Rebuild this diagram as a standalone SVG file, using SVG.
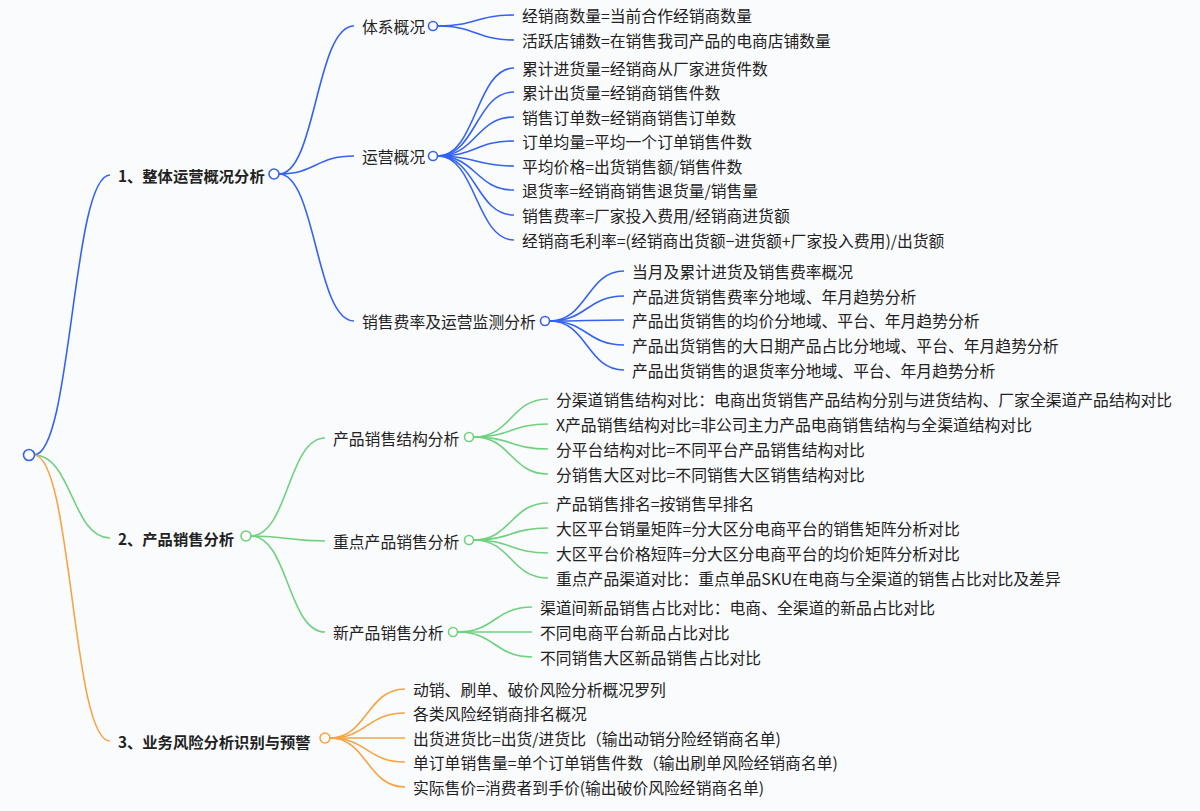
<svg xmlns="http://www.w3.org/2000/svg" width="1200" height="811" viewBox="0 0 1200 811">
<style>
text{font-family:"Noto Sans CJK SC","Noto Sans",sans-serif;font-size:15.8px;fill:#222;dominant-baseline:central}
.b{font-weight:bold;font-size:15.3px}
path{fill:none;stroke-width:1.6}
.bl{stroke:#3563f0}.gr{stroke:#6fd17f}.or{stroke:#f5a545}
circle{fill:#fff;stroke-width:1.6}
</style>
<rect width="1200" height="811" fill="#fafbfd"/>
<g id="connectors">
<path class="bl" d="M34,455 C72,455 72,175 110,175"/>
<path class="gr" d="M34,455 C72,455 72,538 110,538"/>
<path class="or" d="M34,455 C72,455 72,741 110,741"/>
<path class="bl" d="M279,174 C316,174 316,26 354,26"/>
<path class="bl" d="M279,174 C316,174 316,156 354,156"/>
<path class="bl" d="M279,174 C316,174 316,321 354,321"/>
<path class="bl" d="M438,26 C476,26 476,15 514,15"/>
<path class="bl" d="M438,26 C476,26 476,40 514,40"/>
<path class="bl" d="M438,156 C476,156 476,68 514,68"/>
<path class="bl" d="M438,156 C476,156 476,92 514,92"/>
<path class="bl" d="M438,156 C476,156 476,117 514,117"/>
<path class="bl" d="M438,156 C476,156 476,141 514,141"/>
<path class="bl" d="M438,156 C476,156 476,166 514,166"/>
<path class="bl" d="M438,156 C476,156 476,190 514,190"/>
<path class="bl" d="M438,156 C476,156 476,215 514,215"/>
<path class="bl" d="M438,156 C476,156 476,240 514,240"/>
<path class="bl" d="M550,321 C587,321 587,271 624,271"/>
<path class="bl" d="M550,321 C587,321 587,296 624,296"/>
<path class="bl" d="M550,321 C587,321 587,320 624,320"/>
<path class="bl" d="M550,321 C587,321 587,345 624,345"/>
<path class="bl" d="M550,321 C587,321 587,370 624,370"/>
<path class="gr" d="M251,536 C288,536 288,438 325,438"/>
<path class="gr" d="M251,536 C288,536 288,541 325,541"/>
<path class="gr" d="M251,536 C288,536 288,632 325,632"/>
<path class="gr" d="M474,437 C511,437 511,399 548,399"/>
<path class="gr" d="M474,437 C511,437 511,424 548,424"/>
<path class="gr" d="M474,437 C511,437 511,449 548,449"/>
<path class="gr" d="M474,437 C511,437 511,474 548,474"/>
<path class="gr" d="M474,540 C511,540 511,503 548,503"/>
<path class="gr" d="M474,540 C511,540 511,528 548,528"/>
<path class="gr" d="M474,540 C511,540 511,553 548,553"/>
<path class="gr" d="M474,540 C511,540 511,578 548,578"/>
<path class="gr" d="M458,632 C495,632 495,607 532,607"/>
<path class="gr" d="M458,632 C495,632 495,632 532,632"/>
<path class="gr" d="M458,632 C495,632 495,657 532,657"/>
<path class="or" d="M330,738 C367,738 367,689 405,689"/>
<path class="or" d="M330,738 C367,738 367,713 405,713"/>
<path class="or" d="M330,738 C367,738 367,738 405,738"/>
<path class="or" d="M330,738 C367,738 367,762 405,762"/>
<path class="or" d="M330,738 C367,738 367,787 405,787"/>
</g>
<g id="root"><circle cx="29" cy="455" r="5.5" stroke="#3563f0"/></g>
<g id="n1"><text class="b" x="118" y="175">1、整体运营概况分析</text><circle cx="274" cy="174" r="5" stroke="#3563f0"/></g>
<g id="n2"><text class="b" x="118" y="538">2、产品销售分析</text><circle cx="246" cy="536" r="5" stroke="#6fd17f"/></g>
<g id="n3"><text class="b" x="118" y="741">3、业务风险分析识别与预警</text><circle cx="325" cy="738" r="5" stroke="#f5a545"/></g>
<g id="n1a"><text x="362" y="26">体系概况</text><circle cx="433" cy="26" r="4.5" stroke="#3563f0"/></g>
<g id="n1b"><text x="362" y="156">运营概况</text><circle cx="433" cy="156" r="4.5" stroke="#3563f0"/></g>
<g id="n1c"><text x="362" y="321">销售费率及运营监测分析</text><circle cx="545" cy="321" r="4.5" stroke="#3563f0"/></g>
<g id="n2a"><text x="333" y="438">产品销售结构分析</text><circle cx="469" cy="437" r="4.5" stroke="#6fd17f"/></g>
<g id="n2b"><text x="333" y="541">重点产品销售分析</text><circle cx="469" cy="540" r="4.5" stroke="#6fd17f"/></g>
<g id="n2c"><text x="333" y="632">新产品销售分析</text><circle cx="453" cy="632" r="4.5" stroke="#6fd17f"/></g>
<g id="leaves">
<text x="522" y="15">经销商数量=当前合作经销商数量</text>
<text x="522" y="40">活跃店铺数=在销售我司产品的电商店铺数量</text>
<text x="522" y="68">累计进货量=经销商从厂家进货件数</text>
<text x="522" y="92">累计出货量=经销商销售件数</text>
<text x="522" y="117">销售订单数=经销商销售订单数</text>
<text x="522" y="141">订单均量=平均一个订单销售件数</text>
<text x="522" y="166">平均价格=出货销售额/销售件数</text>
<text x="522" y="190">退货率=经销商销售退货量/销售量</text>
<text x="522" y="215">销售费率=厂家投入费用/经销商进货额</text>
<text x="522" y="240">经销商毛利率=(经销商出货额−进货额+厂家投入费用)/出货额</text>
<text x="632" y="271">当月及累计进货及销售费率概况</text>
<text x="632" y="296">产品进货销售费率分地域、年月趋势分析</text>
<text x="632" y="320">产品出货销售的均价分地域、平台、年月趋势分析</text>
<text x="632" y="345">产品出货销售的大日期产品占比分地域、平台、年月趋势分析</text>
<text x="632" y="370">产品出货销售的退货率分地域、平台、年月趋势分析</text>
<text x="556" y="399">分渠道销售结构对比：电商出货销售产品结构分别与进货结构、厂家全渠道产品结构对比</text>
<text x="556" y="424">X产品销售结构对比=非公司主力产品电商销售结构与全渠道结构对比</text>
<text x="556" y="449">分平台结构对比=不同平台产品销售结构对比</text>
<text x="556" y="474">分销售大区对比=不同销售大区销售结构对比</text>
<text x="556" y="503">产品销售排名=按销售早排名</text>
<text x="556" y="528">大区平台销量矩阵=分大区分电商平台的销售矩阵分析对比</text>
<text x="556" y="553">大区平台价格短阵=分大区分电商平台的均价矩阵分析对比</text>
<text x="556" y="578">重点产品渠道对比：重点单品SKU在电商与全渠道的销售占比对比及差异</text>
<text x="540" y="607">渠道间新品销售占比对比：电商、全渠道的新品占比对比</text>
<text x="540" y="632">不同电商平台新品占比对比</text>
<text x="540" y="657">不同销售大区新品销售占比对比</text>
<text x="413" y="689">动销、刷单、破价风险分析概况罗列</text>
<text x="413" y="713">各类风险经销商排名概况</text>
<text x="413" y="738">出货进货比=出货/进货比（输出动销分险经销商名单)</text>
<text x="413" y="762">单订单销售量=单个订单销售件数（输出刷单风险经销商名单)</text>
<text x="413" y="787">实际售价=消费者到手价(输出破价风险经销商名单)</text>
</g>
</svg>
